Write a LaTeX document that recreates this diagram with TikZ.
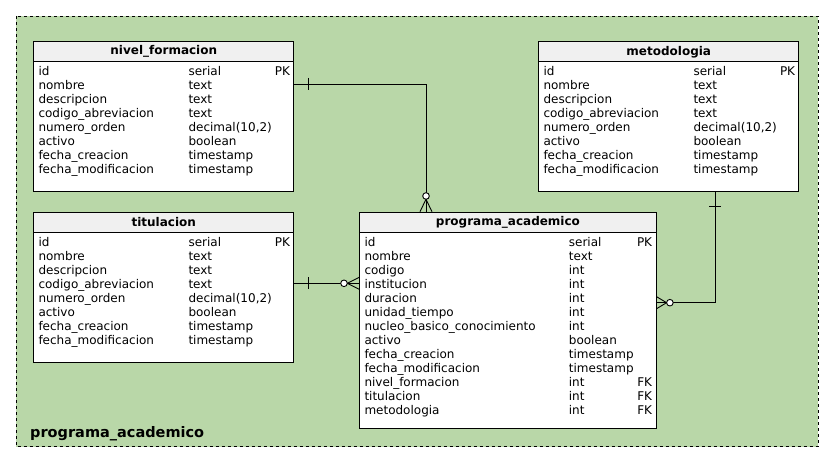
\documentclass[tikz,border=0pt]{standalone}
\usepackage{fontspec}
\setmainfont{DejaVu Sans}
\usetikzlibrary{calc}
\definecolor{bggreen}{HTML}{B9D7A8}
\definecolor{headgrey}{HTML}{F0F0F0}
\tikzset{
  groupbox/.style={draw=black, fill=bggreen, line width=0.9pt, dash pattern=on 3pt off 3pt},
  tablebox/.style={draw=black, fill=white, line width=0.9pt, rectangle, inner sep=0pt, anchor=north west},
  headbox/.style={draw=black, fill=headgrey, line width=0.9pt, rectangle, inner sep=0pt, minimum height=20pt, anchor=north west, font=\bfseries\fontsize{12}{14}\selectfont},
  fieldtext/.style={inner sep=0pt, font=\fontsize{12}{14}\selectfont},
  grouplabel/.style={inner sep=0pt, anchor=base west, font=\bfseries\fontsize{14.5}{17}\selectfont},
  relline/.style={draw=black, line width=0.9pt},
  zerocircle/.style={draw=black, fill=white, line width=0.9pt},
}
\newcommand\erfields[4]{%
  \foreach \fn/\ft/\fk [count=\i from 0] in {#4} {
    \node[fieldtext, anchor=base west] (#1-n\i) at ($(#1.north west)+(5,34.5+14*\i)$) {\fn};
    \node[fieldtext, anchor=base west] (#1-t\i) at ($(#1.north west)+(#2,34.5+14*\i)$) {\ft};
    \node[fieldtext, anchor=base east] (#1-k\i) at ($(#1.north west)+(#3,34.5+14*\i)$) {\fk};
  }}
\begin{document}
\begin{tikzpicture}[x=1pt,y=-1pt]
\useasboundingbox (0,0) rectangle (835,457);
\draw[groupbox] (16,16) rectangle (818,446.5);
\node[grouplabel] (glabel) at (30,437) {programa\_academico};

% nivel_formacion
\node[tablebox, minimum width=260pt, minimum height=150pt] (nf) at (33.3,41.3) {};
\node[headbox, minimum width=260pt] (nfh) at (33.3,41.3) {nivel\_formacion};
\erfields{nf}{155}{257}{id/serial/PK, nombre/text/{}, descripcion/text/{}, codigo\_abreviacion/text/{}, numero\_orden/{decimal(10,2)}/{}, activo/boolean/{}, fecha\_creacion/timestamp/{}, fecha\_modificacion/timestamp/{}}

% titulacion
\node[tablebox, minimum width=260pt, minimum height=150pt] (ti) at (33.3,211.7) {};
\node[headbox, minimum width=260pt] (tih) at (33.3,211.7) {titulacion};
\erfields{ti}{155}{257}{id/serial/PK, nombre/text/{}, descripcion/text/{}, codigo\_abreviacion/text/{}, numero\_orden/{decimal(10,2)}/{}, activo/boolean/{}, fecha\_creacion/timestamp/{}, fecha\_modificacion/timestamp/{}}

% metodologia
\node[tablebox, minimum width=260pt, minimum height=150pt] (me) at (538.3,41.3) {};
\node[headbox, minimum width=260pt] (meh) at (538.3,41.3) {metodologia};
\erfields{me}{155}{257}{id/serial/PK, nombre/text/{}, descripcion/text/{}, codigo\_abreviacion/text/{}, numero\_orden/{decimal(10,2)}/{}, activo/boolean/{}, fecha\_creacion/timestamp/{}, fecha\_modificacion/timestamp/{}}

% programa_academico
\node[tablebox, minimum width=296.4pt, minimum height=216.6pt] (pa) at (359.3,211.7) {};
\node[headbox, minimum width=296.4pt] (pah) at (359.3,211.7) {programa\_academico};
\erfields{pa}{209.4}{293}{id/serial/PK, nombre/text/{}, codigo/int/{}, institucion/int/{}, duracion/int/{}, unidad\_tiempo/int/{}, nucleo\_basico\_conocimiento/int/{}, activo/boolean/{}, fecha\_creacion/timestamp/{}, fecha\_modificacion/timestamp/{}, nivel\_formacion/int/FK, titulacion/int/FK, metodologia/int/FK}

% relation nivel_formacion -> programa_academico
\coordinate (r1s) at ($(nf.north east)+(0,42.7)$);
\coordinate (r1e) at ($(pa.north west)+(66.7,0)$);
\draw[relline] (r1s) -| (r1e);
\draw[relline] ($(r1s)+(14.7,-6)$) -- ($(r1s)+(14.7,6)$);
\draw[relline] ($(r1e)+(0,-12.4)$) -- ($(r1e)+(-6,0)$);
\draw[relline] ($(r1e)+(0,-12.4)$) -- ($(r1e)+(6,0)$);
\draw[zerocircle] ($(r1e)+(0,-15.7)$) circle[radius=3.3];

% relation titulacion -> programa_academico
\coordinate (r2s) at ($(ti.north east)+(0,71.6)$);
\coordinate (r2e) at ($(pa.north west)+(0,71.6)$);
\draw[relline] (r2s) -- (r2e);
\draw[relline] ($(r2s)+(14.7,-6)$) -- ($(r2s)+(14.7,6)$);
\draw[relline] ($(r2e)+(-12,0)$) -- ($(r2e)+(0,-6)$);
\draw[relline] ($(r2e)+(-12,0)$) -- ($(r2e)+(0,6)$);
\draw[zerocircle] ($(r2e)+(-15.3,0)$) circle[radius=3.3];

% relation metodologia -> programa_academico
\coordinate (r3s) at ($(me.south west)+(177,0)$);
\coordinate (r3e) at ($(pa.north east)+(0,91)$);
\draw[relline] (r3e) -| (r3s);
\draw[relline] ($(r3s)+(-6,14.7)$) -- ($(r3s)+(6,14.7)$);
\draw[relline] ($(r3e)+(10,0)$) -- ($(r3e)+(0,-6)$);
\draw[relline] ($(r3e)+(10,0)$) -- ($(r3e)+(0,6)$);
\draw[zerocircle] ($(r3e)+(13.3,0)$) circle[radius=3.3];
\end{tikzpicture}
\end{document}
